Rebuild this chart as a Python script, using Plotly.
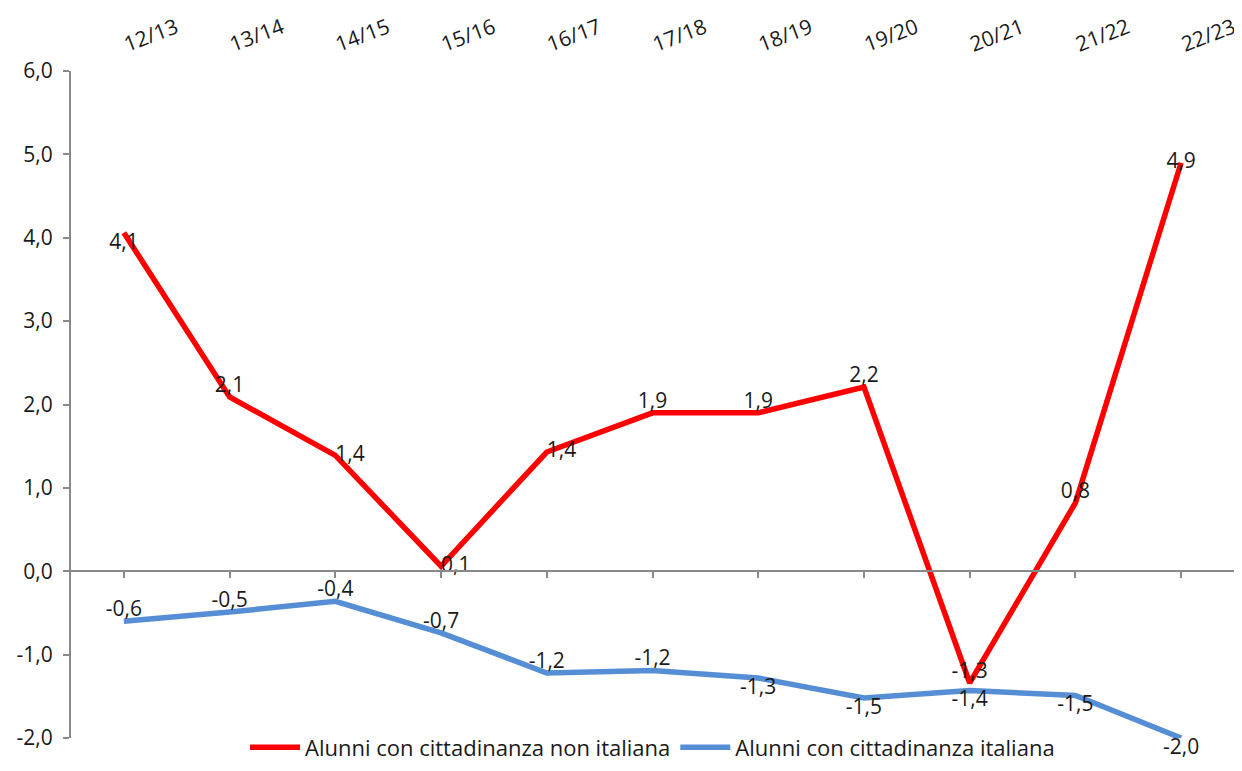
import plotly.graph_objects as go

# Anni scolastici
anni = ["12/13", "13/14", "14/15", "15/16", "16/17", "17/18",
        "18/19", "19/20", "20/21", "21/22", "22/23"]

# Variazione % alunni con cittadinanza non italiana
non_italiana = [4.06, 2.09, 1.39, 0.06, 1.43, 1.90, 1.90, 2.21, -1.34, 0.82, 4.90]
# Variazione % alunni con cittadinanza italiana
italiana = [-0.60, -0.49, -0.36, -0.74, -1.22, -1.19, -1.28, -1.52, -1.43, -1.49, -2.00]

# Tacche asse y
y_ticks = [-2, -1, 0, 1, 2, 3, 4, 5, 6]

pos_non_italiana = ["bottom center", "top center", "middle right", "middle right",
                    "middle right", "top center", "top center", "top center",
                    "top center", "top center", "middle center"]
pos_italiana = ["top center"] * 6 + ["bottom center"] * 5

FONT = "Open Sans"
TXT = "#1a1a1a"
AXIS = "#898989"
FS = 21

# la pagina html ha un margine di 8px attorno al grafico
PAGE = 8

fig = go.Figure()

fig.add_trace(go.Scatter(
    x=anni, y=non_italiana,
    name="Alunni con cittadinanza non italiana",
    mode="lines+text",
    line=dict(color="#ff0000", width=5.5),
    texttemplate="%{y:.1f}",
    textposition=pos_non_italiana,
    textfont=dict(size=FS, color=TXT, family=FONT),
    cliponaxis=False,
))

fig.add_trace(go.Scatter(
    x=anni, y=italiana,
    name="Alunni con cittadinanza italiana",
    mode="lines+text",
    line=dict(color="#558ed5", width=5.5),
    texttemplate="%{y:.1f}",
    textposition=pos_italiana,
    textfont=dict(size=FS, color=TXT, family=FONT),
    cliponaxis=False,
    xaxis="x2",
))

y_min, y_max = y_ticks[0], y_ticks[-1]

fig.update_layout(
    width=1242 - PAGE,
    height=771 - PAGE,
    separators=",.",
    paper_bgcolor="white",
    plot_bgcolor="white",
    font=dict(family=FONT, size=FS, color=TXT),
    margin=dict(l=71 - PAGE, r=8, t=71 - PAGE, b=33, autoexpand=False),
    showlegend=True,
    legend=dict(
        orientation="h",
        x=0.5, xanchor="center",
        y=-0.014, yanchor="middle",
        bgcolor="rgba(0,0,0,0)",
        itemwidth=50,
        font=dict(size=22, family=FONT, color=TXT),
    ),
    # etichette categorie in alto
    xaxis=dict(
        type="category",
        side="top",
        automargin=False,
        range=[-0.5, len(anni) - 0.5],
        showline=False,
        showgrid=False,
        zeroline=False,
        ticks="",
        tickangle=-21,
        ticklabelstandoff=13,
        tickfont=dict(size=FS, family=FONT, color=TXT),
    ),
    # asse delle categorie sulla linea dello zero
    xaxis2=dict(
        type="category",
        matches="x",
        overlaying="x",
        anchor="free",
        automargin=False,
        position=(0 - y_min) / (y_max - y_min),
        showline=True,
        linecolor=AXIS,
        linewidth=2,
        ticks="outside",
        ticklen=6,
        tickwidth=2,
        tickcolor=AXIS,
        showticklabels=False,
        showgrid=False,
        zeroline=False,
    ),
    yaxis=dict(
        range=[y_min, y_max],
        automargin=False,
        tickvals=y_ticks,
        ticktext=[f"{v:.1f}".replace(".", ",") for v in y_ticks],
        showline=True,
        linecolor=AXIS,
        linewidth=2,
        ticks="outside",
        ticklen=6,
        tickwidth=2,
        tickcolor=AXIS,
        ticklabelstandoff=6,
        showgrid=False,
        zeroline=False,
        tickfont=dict(size=FS, family=FONT, color=TXT),
    ),
)

fig.write_html("out.html")
